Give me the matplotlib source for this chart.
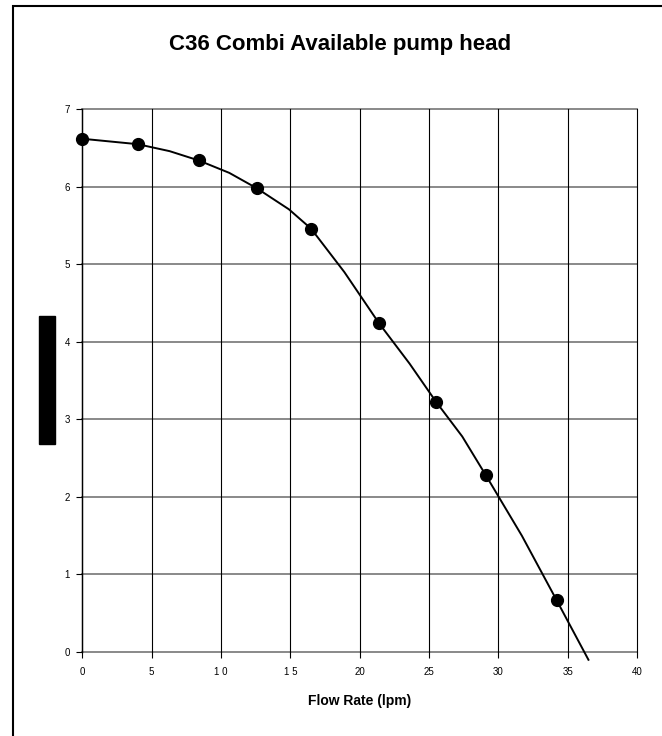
import matplotlib
matplotlib.use('Agg')
import matplotlib.pyplot as plt
from matplotlib.patches import Rectangle

plt.rcParams['font.family'] = ['Liberation Sans', 'DejaVu Sans']

# Measured points (markers)
flow_pts = [0, 4.0, 8.4, 12.6, 16.5, 21.4, 25.5, 29.1, 34.2]
head_pts = [6.62, 6.55, 6.34, 5.98, 5.46, 4.24, 3.23, 2.28, 0.67]

# Smoothed curve
flow_line = [0, 4.0, 6.3, 8.4, 10.6, 12.6, 14.9, 16.5, 18.9, 21.4, 23.6,
             25.5, 27.4, 29.1, 31.7, 34.2, 36.5]
head_line = [6.62, 6.55, 6.46, 6.34, 6.18, 5.98, 5.71, 5.46, 4.9, 4.24, 3.72,
             3.23, 2.78, 2.28, 1.5, 0.67, -0.1]

x_ticks = [0, 5, 10, 15, 20, 25, 30, 35, 40]
x_labels = ['0', '5', '1 0', '1 5', '20', '25', '30', '35', '40']
y_ticks = [0, 1, 2, 3, 4, 5, 6, 7]

fig = plt.figure(figsize=(6.62, 7.36), dpi=100)
ax = fig.add_axes([0.1243, 0.1141, 0.8379, 0.7374])

# grid: gray horizontals, black verticals
for y in y_ticks:
    ax.axhline(y, color='#808080', lw=1.3, zorder=1, clip_on=False)
for x in x_ticks:
    ax.axvline(x, color='black', lw=0.8, zorder=1, clip_on=False)

ax.plot(flow_line, head_line, color='black', lw=1.4, zorder=3, clip_on=False)
ax.plot(flow_pts, head_pts, 'o', color='black', markersize=8.5, zorder=4,
        clip_on=False)

ax.set_xlim(0, 40)
ax.set_ylim(0, 7)
ax.set_xticks(x_ticks)
ax.set_xticklabels(x_labels)
ax.set_yticks(y_ticks)
for s in ['top', 'right', 'bottom']:
    ax.spines[s].set_visible(False)
ax.spines['left'].set_linewidth(1.0)
ax.tick_params(axis='both', direction='out', length=4, width=0.8,
               labelsize=7, colors='black')
ax.tick_params(axis='x', pad=7)
ax.tick_params(axis='y', pad=5)

ax.set_xlabel('Flow Rate (lpm)', fontsize=10, fontweight='bold', labelpad=12)
fig.text(0.514, 0.939, 'C36 Combi Available pump head', ha='center',
         va='center', fontsize=16, fontweight='bold')

# black box where the y label sits
fig.patches.append(Rectangle((0.059, 0.397), 0.0242, 0.174,
                             transform=fig.transFigure, color='black'))
# outer border
fig.patches.append(Rectangle((13 / 662, -0.01), 1.0, 1 - 6 / 736 + 0.01,
                             transform=fig.transFigure, fill=False,
                             edgecolor='black', lw=1.5))

fig.savefig('out.png', dpi=100)
